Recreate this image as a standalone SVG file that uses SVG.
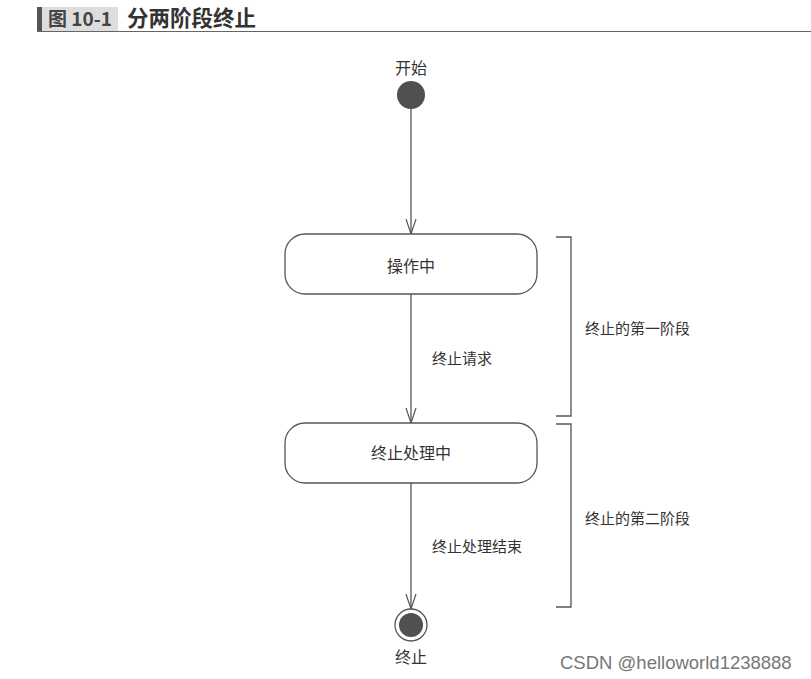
<svg xmlns="http://www.w3.org/2000/svg" width="811" height="679" viewBox="0 0 811 679">
<style>
text{font-family:"Noto Sans CJK SC","Liberation Sans",sans-serif;fill:#333}
.node{fill:#fff;stroke:#555;stroke-width:1.3}
.edge{stroke:#555;stroke-width:1.3;fill:none}
.br{stroke:#555;stroke-width:1.3;fill:none}
.t{font-size:16px;text-anchor:middle}
.l{font-size:15px}
</style>
<defs>
<marker id="arr" markerWidth="16" markerHeight="12" refX="15" refY="6" orient="auto" markerUnits="userSpaceOnUse" viewBox="0 0 16 12">
<path d="M0,1 L15,6 L0,11" fill="none" stroke="#555" stroke-width="1.2"/>
</marker>
</defs>
<rect width="811" height="679" fill="#fff"/>
<g id="header">
<rect x="37" y="7" width="5" height="24" fill="#555"/>
<rect x="42" y="7" width="76" height="24" fill="#ddd"/>
<text x="48" y="26" style="font-size:19px;font-weight:bold;fill:#444">图 10-1</text>
<text x="127" y="26" style="font-size:21.5px;font-weight:bold;fill:#333">分两阶段终止</text>
<line x1="37" y1="31.5" x2="811" y2="31.5" stroke="#666" stroke-width="1.2"/>
</g>
<g id="edges">
<line class="edge" x1="411" y1="109" x2="411" y2="234" marker-end="url(#arr)"/>
<line class="edge" x1="411" y1="294" x2="411" y2="423" marker-end="url(#arr)"/>
<line class="edge" x1="411" y1="483" x2="411" y2="609" marker-end="url(#arr)"/>
<text class="l" x="432" y="364">终止请求</text>
<text class="l" x="432" y="552">终止处理结束</text>
</g>
<g id="start">
<circle cx="411" cy="95" r="14" fill="#505050"/>
<text class="t" x="411" y="74">开始</text>
</g>
<g id="running">
<rect class="node" x="285" y="234" width="252" height="60" rx="20"/>
<text class="t" x="411" y="272">操作中</text>
</g>
<g id="terminating">
<rect class="node" x="285" y="423" width="252" height="60" rx="20"/>
<text class="t" x="411" y="459">终止处理中</text>
</g>
<g id="end">
<circle cx="411" cy="625" r="16" fill="#fff" stroke="#555" stroke-width="1.3"/>
<circle cx="411" cy="625" r="12" fill="#505050"/>
<text class="t" x="411" y="663">终止</text>
</g>
<g id="phase1">
<path class="br" d="M556,237 H571 V416 H556"/>
<text class="l" x="585" y="334">终止的第一阶段</text>
</g>
<g id="phase2">
<path class="br" d="M556,424 H571 V607 H556"/>
<text class="l" x="585" y="524">终止的第二阶段</text>
</g>
<text x="560" y="669" style="font-family:'Liberation Sans',sans-serif;font-size:18.5px;fill:#777">CSDN @helloworld1238888</text>
</svg>
